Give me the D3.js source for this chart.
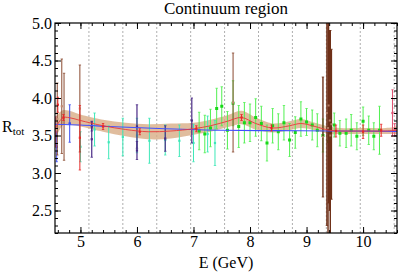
<!DOCTYPE html>
<html><head><meta charset="utf-8">
<script src="https://cdn.jsdelivr.net/npm/d3@7"></script>
<style>body{margin:0;background:#fff}svg{display:block}</style>
</head><body><svg id="c" width="399" height="272"></svg>
<script>
// ---- data ----
const xTicks = [5, 6, 7, 8, 9, 10];
const yTicks = [2.5, 3.0, 3.5, 4.0, 4.5, 5.0];
const binEdges = [5.15, 5.75, 6.35, 6.95, 7.55, 8.15, 8.75, 9.35, 9.95, 10.55];
// fit (red line with tan uncertainty band)
const fitE   = [4.55, 4.62, 4.70, 4.85, 5.00, 5.40, 5.80, 6.20, 6.60, 7.00, 7.30, 7.60, 7.85, 8.10, 8.40, 8.70, 8.90, 9.15, 9.40, 9.60, 10.0, 10.4, 10.6];
const fitR   = [3.58, 3.68, 3.74, 3.73, 3.70, 3.63, 3.58, 3.55, 3.56, 3.59, 3.63, 3.69, 3.74, 3.66, 3.60, 3.63, 3.66, 3.62, 3.57, 3.56, 3.56, 3.56, 3.57];
const fitErr = [0.15, 0.12, 0.10, 0.09, 0.08, 0.08, 0.09, 0.10, 0.10, 0.08, 0.08, 0.08, 0.09, 0.08, 0.06, 0.06, 0.06, 0.05, 0.05, 0.04, 0.04, 0.04, 0.05];
// blue curve
const blueE = [4.55, 5.0, 5.5, 6.5, 7.5, 8.5, 9.5, 10.6];
const blueR = [3.65, 3.64, 3.62, 3.59, 3.57, 3.565, 3.56, 3.555];
// red points
const redE   = [4.60, 4.70, 4.99, 5.40, 6.05, 7.05, 7.85, 8.38, 9.52, 10.0, 10.32];
const redR   = [3.91, 3.74, 3.47, 3.62, 3.55, 3.59, 3.74, 3.60, 3.56, 3.55, 3.57];
const redErr = [0.10, 0.04, 0.43, 0.04, 0.04, 0.04, 0.04, 0.04, 0.08, 0.09, 0.08];
// green points
const greenE   = [7.10, 7.20, 7.30, 7.41, 7.50, 7.60, 7.70, 7.80, 7.90, 8.00, 8.10, 8.20, 8.30, 8.40, 8.50, 8.60, 8.70, 8.80, 8.90, 9.00, 9.10, 9.19, 9.29, 9.39, 9.49, 9.59, 9.70, 9.79, 9.89, 10.0, 10.1, 10.19, 10.29];
const greenR   = [3.56, 3.52, 3.60, 3.86, 3.89, 3.57, 3.93, 3.62, 3.67, 3.67, 3.74, 3.66, 3.40, 3.63, 3.55, 3.67, 3.44, 3.54, 3.72, 3.68, 3.64, 3.57, 3.50, 3.42, 3.64, 3.53, 3.53, 3.57, 3.49, 3.69, 3.57, 3.49, 3.57];
const greenErr = [0.25, 0.25, 0.25, 0.27, 0.26, 0.25, 0.30, 0.28, 0.27, 0.25, 0.25, 0.23, 0.24, 0.23, 0.24, 0.23, 0.22, 0.21, 0.23, 0.18, 0.20, 0.22, 0.22, 0.20, 0.16, 0.17, 0.19, 0.21, 0.18, 0.19, 0.19, 0.18, 0.32];
// cyan points
const cyanE   = [5.00, 5.25, 5.50, 5.75, 6.00, 6.22, 6.50, 6.75, 7.00, 7.25, 7.38];
const cyanR   = [3.35, 3.58, 3.41, 3.48, 3.50, 3.43, 3.44, 3.43, 3.40, 3.52, 3.40];
const cyanErr = [0.20, 0.22, 0.22, 0.25, 0.23, 0.30, 0.20, 0.21, 0.25, 0.24, 0.30];
// purple points
const purpleE   = [5.20, 5.20, 6.00, 6.00, 6.50, 6.97];
const purpleR   = [3.45, 3.62, 3.62, 3.30, 3.46, 3.70];
const purpleErr = [0.24, 0.06, 0.29, 0.12, 0.17, 0.30];
// brown points
const brownE   = [4.59, 4.67, 4.71, 4.99, 7.70, 9.29, 9.36, 9.38, 9.39, 9.41, 9.42, 9.44];
const brownR   = [3.72, 3.89, 3.75, 3.86, 3.94, 3.48, 3.80, 3.60, 3.90, 3.70, 3.50, 3.65];
const brownErr = [0.48, 0.63, 0.58, 0.58, 0.66, 0.80, 1.50, 1.60, 1.30, 1.20, 1.40, 1.00];
// blue points
const bptE   = [4.58, 4.81];
const bptR   = [3.35, 3.66];
const bptErr = [0.20, 0.25];
// pink points (edges)
const pinkE   = [4.56, 10.52, 10.56];
const pinkR   = [3.55, 3.80, 3.58];
const pinkErr = [0.20, 0.31, 0.08];

// ---- drawing ----
const FONT = "'Liberation Serif', 'Times New Roman', serif";
const svg = d3.select("#c");
const L = 55, R = 397, T = 23, B = 233;
const x = d3.scaleLinear().domain([4.55, 10.6]).range([L, R]);
const y = d3.scaleLinear().domain([2.2, 5.0]).range([B, T]);

svg.append("defs").append("clipPath").attr("id", "clip")
  .append("rect").attr("x", L).attr("y", T).attr("width", R - L).attr("height", B - T);
const g = svg.append("g").attr("clip-path", "url(#clip)");

// dashed bin edges
g.selectAll("line.bin").data(binEdges).enter().append("line")
  .attr("x1", d => x(d)).attr("x2", d => x(d)).attr("y1", T).attr("y2", B)
  .attr("stroke", "#9a9a9a").attr("stroke-width", 0.8).attr("stroke-dasharray", "2,2");

// band
const fitData = fitE.map((e, i) => ({e, r: fitR[i], s: fitErr[i]}));
g.append("path").datum(fitData)
  .attr("d", d3.area().x(d => x(d.e)).y0(d => y(d.r - d.s)).y1(d => y(d.r + d.s)).curve(d3.curveCatmullRom))
  .attr("fill", "rgb(216,172,134)").attr("opacity", 0.8);

function pts(E, Rv, Er, color, size, w, dot) {
  const data = E.map((e, i) => ({e, r: Rv[i], s: Er[i]}));
  const gg = g.append("g");
  gg.selectAll("line.eb").data(data).enter().append("line")
    .attr("x1", d => x(d.e)).attr("x2", d => x(d.e))
    .attr("y1", d => y(d.r - d.s)).attr("y2", d => y(d.r + d.s))
    .attr("stroke", color).attr("stroke-width", w);
  gg.selectAll("line.c1").data(data).enter().append("line")
    .attr("x1", d => x(d.e) - 1.2).attr("x2", d => x(d.e) + 1.2)
    .attr("y1", d => y(d.r - d.s)).attr("y2", d => y(d.r - d.s))
    .attr("stroke", color).attr("stroke-width", 0.8);
  gg.selectAll("line.c2").data(data).enter().append("line")
    .attr("x1", d => x(d.e) - 1.2).attr("x2", d => x(d.e) + 1.2)
    .attr("y1", d => y(d.r + d.s)).attr("y2", d => y(d.r + d.s))
    .attr("stroke", color).attr("stroke-width", 0.8);
  gg.selectAll("rect").data(data).enter().append("rect")
    .attr("x", d => x(d.e) - size / 2).attr("y", d => y(d.r) - size / 2)
    .attr("width", size).attr("height", size).attr("fill", dot || color);
}

pts(cyanE, cyanR, cyanErr, "#3de8b8", 2.2, 1);
pts(greenE, greenR, greenErr, "#50f050", 3, 1, "#18d818");
pts(purpleE, purpleR, purpleErr, "#4a2a86", 2.2, 1.2);
pts(bptE, bptR, bptErr, "#3a4cf0", 2.4, 1);
pts(brownE.slice(0, 5), brownR.slice(0, 5), brownErr.slice(0, 5), "#8a4a30", 2.2, 1, "#c08870");
pts(brownE.slice(5), brownR.slice(5), brownErr.slice(5), "#6e3018", 2, 1.4, "#b07860");
pts(pinkE, pinkR, pinkErr, "#e05070", 2.2, 1);

// blue line
g.append("path").datum(blueE.map((e, i) => ({e, r: blueR[i]})))
  .attr("d", d3.line().x(d => x(d.e)).y(d => y(d.r)).curve(d3.curveMonotoneX))
  .attr("fill", "none").attr("stroke", "#4050ff").attr("stroke-width", 1.2);
// red fit line
g.append("path").datum(fitData)
  .attr("d", d3.line().x(d => x(d.e)).y(d => y(d.r)).curve(d3.curveCatmullRom))
  .attr("fill", "none").attr("stroke", "#e83a3a").attr("stroke-width", 0.9);
pts(redE, redR, redErr, "#e82828", 2.2, 1);

// frame
svg.append("rect").attr("x", L).attr("y", T).attr("width", R - L).attr("height", B - T)
  .attr("fill", "none").attr("stroke", "#000").attr("stroke-width", 1.2);

// axes with inward ticks
const xMinor = d3.range(4.6, 10.61, 0.2).map(v => +v.toFixed(2));
const yMinor = d3.range(2.2, 5.001, 0.1).map(v => +v.toFixed(2));
function xAxis(sel, top) {
  const mk = () => top ? d3.axisTop(x) : d3.axisBottom(x);
  sel.call(mk().tickValues(xMinor).tickSize(-3).tickFormat(""));
  sel.append("g").call(mk().tickValues(xTicks).tickSize(-6)
      .tickFormat(top ? "" : d3.format("d")).tickPadding(3));
}
const gxb = svg.append("g").attr("transform", `translate(0,${B})`); xAxis(gxb, false);
const gxt = svg.append("g").attr("transform", `translate(0,${T})`); xAxis(gxt, true);
function yAxis(sel, right) {
  const mk = () => right ? d3.axisRight(y) : d3.axisLeft(y);
  sel.call(mk().tickValues(yMinor).tickSize(-3).tickFormat(""));
  sel.append("g").call(mk().tickValues(yTicks).tickSize(-6)
      .tickFormat(right ? "" : d3.format(".1f")).tickPadding(3));
}
const gyl = svg.append("g").attr("transform", `translate(${L},0)`); yAxis(gyl, false);
const gyr = svg.append("g").attr("transform", `translate(${R},0)`); yAxis(gyr, true);
svg.selectAll(".domain").remove();
svg.selectAll(".tick line").attr("stroke", "#000").attr("stroke-width", 1);
svg.selectAll(".tick text").attr("font-size", null).style("font-size", "16px");

// labels
svg.append("text").attr("x", 226).attr("y", 14).attr("text-anchor", "middle")
  .style("font-size", "17px").text("Continuum region");
svg.append("text").attr("x", 226).attr("y", 268).attr("text-anchor", "middle")
  .style("font-size", "16px").text("E (GeV)");
const rt = svg.append("text").attr("x", 2).attr("y", 132).style("font-size", "16px");
rt.append("tspan").text("R");
rt.append("tspan").style("font-size", "11px").attr("dy", 3).text("tot");
svg.selectAll("text").style("font-family", FONT).attr("fill", "#000");
</script></body></html>
